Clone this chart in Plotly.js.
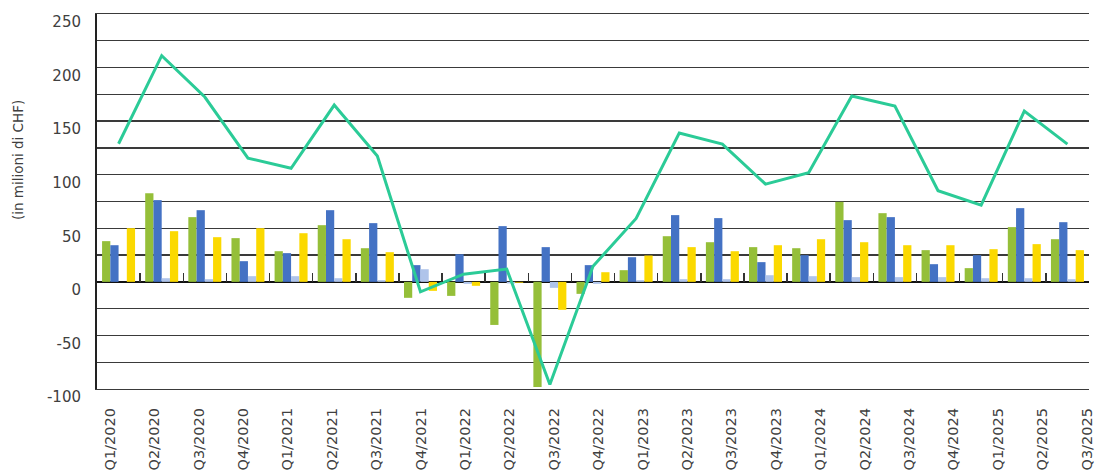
<!DOCTYPE html>
<html>
<head>
<meta charset="utf-8">
<script src="https://cdn.plot.ly/plotly-3.0.1.min.js"></script>
<style>
html,body{margin:0;padding:0;background:#fff;}
#chart{width:1097px;height:472px;}
</style>
</head>
<body>
<div id="chart"></div>
<script>
const categories = ['Q1/2020','Q2/2020','Q3/2020','Q4/2020','Q1/2021','Q2/2021','Q3/2021','Q4/2021',
  'Q1/2022','Q2/2022','Q3/2022','Q4/2022','Q1/2023','Q2/2023','Q3/2023','Q4/2023',
  'Q1/2024','Q2/2024','Q3/2024','Q4/2024','Q1/2025','Q2/2025','Q3/2025'];
const greenSeries = [38.0, 82.8, 60.4, 40.8, 28.6, 52.9, 31.4, -14.9, -13.1, -40.2, -98.1, -11.2,
  10.9, 42.6, 37.0, 32.4, 31.4, 74.7, 64.1, 29.6, 12.8, 51.1, 39.8];
const blueSeries = [34.2, 76.3, 66.9, 19.3, 26.8, 66.9, 54.8, 15.6, 25.8, 52.0, 32.4, 15.6,
  23.0, 62.3, 59.5, 18.4, 24.9, 57.6, 60.4, 16.5, 24.9, 68.8, 55.7];
const lavenderSeries = [0.0, 3.4, 2.5, 5.3, 5.3, 3.4, 1.6, 11.8, -1.9, -1.5, -5.6, -1.9,
  1.6, 2.5, 2.5, 6.2, 5.3, 4.4, 4.4, 4.4, 3.4, 3.4, 2.5];
const yellowSeries = [50.1, 47.3, 41.7, 50.1, 45.4, 39.8, 27.7, -8.4, -3.7, -0.8, -26.1, 9.0,
  24.6, 32.4, 28.6, 34.2, 39.8, 37.0, 34.2, 34.2, 30.5, 35.2, 29.6];
const totalSeries = [128.9, 211.1, 172.5, 115.5, 106.0, 165.0, 117.4, -9.3, 7.2, 11.9, -95.8, 14.5,
  59.2, 138.9, 128.6, 91.2, 101.8, 173.4, 164.0, 85.0, 71.6, 159.4, 128.6];
const yTickVals = [-100, -50, 0, 50, 100, 150, 200, 250];

const yMin = -100, yMax = 250;
const zeroPos = (0 - yMin) / (yMax - yMin);
const font = 'DejaVu Sans, sans-serif';

// label axis: labels are spread a little wider than the bar groups (as in the source chart)
const plotWidthPx = 992, firstLabelOffsetPx = 13, labelStepPx = 44.4;
const labelRange = [-firstLabelOffsetPx / labelStepPx, (plotWidthPx - firstLabelOffsetPx) / labelStepPx];

function bar(vals, color) {
  return {type: 'bar', x: categories, y: vals, marker: {color: color, line: {width: 0}},
    hoverinfo: 'x+y', showlegend: false};
}
const traces = [
  bar(greenSeries, '#95BF39'),
  bar(blueSeries, '#4472C4'),
  bar(lavenderSeries, '#AFC4EA'),
  bar(yellowSeries, '#FBD900'),
  {type: 'scatter', mode: 'lines', x: categories, y: totalSeries,
   line: {color: '#2BCB97', width: 3}, showlegend: false},
  // invisible helper so the category-label axis has its categories
  {type: 'scatter', mode: 'markers', x: categories, y: totalSeries, xaxis: 'x2',
   marker: {opacity: 0, size: 1}, hoverinfo: 'skip', showlegend: false}
];

const layout = {
  width: 1097, height: 472,
  margin: {l: 97, r: 8, t: 14, b: 83, pad: 0},
  paper_bgcolor: '#fff', plot_bgcolor: '#fff',
  barmode: 'group', bargap: 0.235, bargroupgap: 0,
  showlegend: false,
  font: {family: font, size: 15, color: '#404040'},
  xaxis: {
    type: 'category', anchor: 'free', position: zeroPos,
    showgrid: false, zeroline: false, showline: false,
    ticks: 'inside', tickson: 'boundaries', ticklen: 9, tickwidth: 1.5, tickcolor: '#333',
    showticklabels: false
  },
  xaxis2: {
    type: 'category', overlaying: 'x', anchor: 'y', side: 'bottom',
    range: labelRange,
    ticks: '', tickangle: -90, showgrid: false, zeroline: false,
    showline: true, mirror: true, linecolor: '#3a3a3a', linewidth: 1.3,
    tickfont: {family: font, size: 14.5, color: '#404040'},
    ticklabelstandoff: 12
  },
  yaxis: {
    range: [yMin, yMax], tickvals: yTickVals, ticktext: yTickVals.map(String),
    showgrid: true, gridcolor: '#3a3a3a', gridwidth: 1.3,
    minor: {dtick: 25, tick0: 0, showgrid: true, gridcolor: '#3a3a3a', gridwidth: 1.3, ticks: ''},
    zeroline: true, zerolinecolor: '#111', zerolinewidth: 2.2,
    showline: true, linecolor: '#222', linewidth: 2,
    ticks: '', tickfont: {family: font, size: 15, color: '#404040'},
    ticklabelshift: 8, ticklabelstandoff: 11
  },
  annotations: [{
    text: '(in milioni di CHF)', textangle: -90, showarrow: false,
    xref: 'paper', yref: 'paper', x: (18 - 97) / 992, y: (388.7 - 160) / 374.7,
    xanchor: 'center', yanchor: 'middle',
    font: {family: font, size: 13.5, color: '#404040'}
  }]
};

Plotly.newPlot('chart', traces, layout, {displayModeBar: false, staticPlot: true});
</script>
</body>
</html>
